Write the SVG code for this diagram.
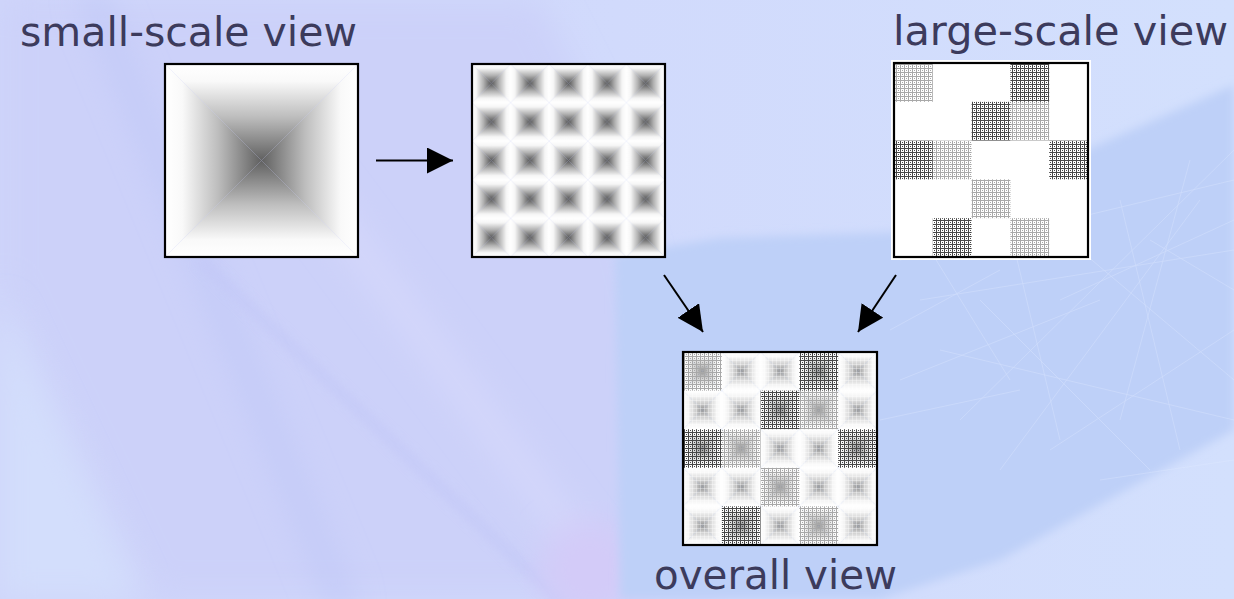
<svg xmlns="http://www.w3.org/2000/svg" width="1234" height="599" viewBox="0 0 1234 599">
<style>
.lbl{font-family:"DejaVu Sans","Liberation Sans",sans-serif;font-size:40px;fill:#3c3b5c}
.frame{fill:none;stroke:#000;stroke-width:2.2}
.conn{stroke:#000;stroke-width:2;fill:none}
.net{stroke:#e2ebff;stroke-width:0.7;opacity:0.45;fill:none}
</style>
<defs>
<filter id="soft" x="-20%" y="-20%" width="140%" height="140%"><feGaussianBlur stdDeviation="16"/></filter>
<filter id="soft2" x="-20%" y="-20%" width="140%" height="140%"><feGaussianBlur stdDeviation="5"/></filter>
<linearGradient id="bg" x1="0" y1="0" x2="1" y2="0"><stop offset="0" stop-color="#cfd5fa"/><stop offset="0.5" stop-color="#d1dafc"/><stop offset="1" stop-color="#d3e0fd"/></linearGradient>
<linearGradient id="pT" x1="0" y1="0" x2="0" y2="1"><stop offset="0" stop-color="#fff"/><stop offset="0.18" stop-color="#f9f9f9"/><stop offset="0.55" stop-color="#bdbdbd"/><stop offset="1" stop-color="#606060"/></linearGradient>
<linearGradient id="pB" x1="0" y1="1" x2="0" y2="0"><stop offset="0" stop-color="#fff"/><stop offset="0.18" stop-color="#f9f9f9"/><stop offset="0.55" stop-color="#bdbdbd"/><stop offset="1" stop-color="#606060"/></linearGradient>
<linearGradient id="pL" x1="0" y1="0" x2="1" y2="0"><stop offset="0" stop-color="#fff"/><stop offset="0.18" stop-color="#f9f9f9"/><stop offset="0.55" stop-color="#bdbdbd"/><stop offset="1" stop-color="#606060"/></linearGradient>
<linearGradient id="pR" x1="1" y1="0" x2="0" y2="0"><stop offset="0" stop-color="#fff"/><stop offset="0.18" stop-color="#f9f9f9"/><stop offset="0.55" stop-color="#bdbdbd"/><stop offset="1" stop-color="#606060"/></linearGradient>
<linearGradient id="sT" x1="0" y1="0" x2="0" y2="1"><stop offset="0" stop-color="#fff"/><stop offset="0.22" stop-color="#f6f6f6"/><stop offset="0.6" stop-color="#b0b0b0"/><stop offset="1" stop-color="#565656"/></linearGradient>
<linearGradient id="sB" x1="0" y1="1" x2="0" y2="0"><stop offset="0" stop-color="#fff"/><stop offset="0.22" stop-color="#f6f6f6"/><stop offset="0.6" stop-color="#b0b0b0"/><stop offset="1" stop-color="#565656"/></linearGradient>
<linearGradient id="sL" x1="0" y1="0" x2="1" y2="0"><stop offset="0" stop-color="#fff"/><stop offset="0.22" stop-color="#f6f6f6"/><stop offset="0.6" stop-color="#b0b0b0"/><stop offset="1" stop-color="#565656"/></linearGradient>
<linearGradient id="sR" x1="1" y1="0" x2="0" y2="0"><stop offset="0" stop-color="#fff"/><stop offset="0.22" stop-color="#f6f6f6"/><stop offset="0.6" stop-color="#b0b0b0"/><stop offset="1" stop-color="#565656"/></linearGradient>
<linearGradient id="fT" x1="0" y1="0" x2="0" y2="1"><stop offset="0" stop-color="#fff"/><stop offset="0.25" stop-color="#f7f7f7"/><stop offset="0.65" stop-color="#cfcfcf"/><stop offset="1" stop-color="#929292"/></linearGradient>
<linearGradient id="fB" x1="0" y1="1" x2="0" y2="0"><stop offset="0" stop-color="#fff"/><stop offset="0.25" stop-color="#f7f7f7"/><stop offset="0.65" stop-color="#cfcfcf"/><stop offset="1" stop-color="#929292"/></linearGradient>
<linearGradient id="fL" x1="0" y1="0" x2="1" y2="0"><stop offset="0" stop-color="#fff"/><stop offset="0.25" stop-color="#f7f7f7"/><stop offset="0.65" stop-color="#cfcfcf"/><stop offset="1" stop-color="#929292"/></linearGradient>
<linearGradient id="fR" x1="1" y1="0" x2="0" y2="0"><stop offset="0" stop-color="#fff"/><stop offset="0.25" stop-color="#f7f7f7"/><stop offset="0.65" stop-color="#cfcfcf"/><stop offset="1" stop-color="#929292"/></linearGradient>
<pattern id="tile2" patternUnits="userSpaceOnUse" x="472" y="64" width="38.6" height="38.6">
<polygon points="0,0 38.6,0 19.3,19.3" fill="url(#sT)"/>
<polygon points="0,38.6 38.6,38.6 19.3,19.3" fill="url(#sB)"/>
<polygon points="0,0 0,38.6 19.3,19.3" fill="url(#sL)"/>
<polygon points="38.6,0 38.6,38.6 19.3,19.3" fill="url(#sR)"/>
</pattern>
<pattern id="tile4" patternUnits="userSpaceOnUse" x="683" y="352" width="38.8" height="38.6">
<polygon points="0,0 38.8,0 19.4,19.3" fill="url(#fT)"/>
<polygon points="0,38.6 38.8,38.6 19.4,19.3" fill="url(#fB)"/>
<polygon points="0,0 0,38.6 19.4,19.3" fill="url(#fL)"/>
<polygon points="38.8,0 38.8,38.6 19.4,19.3" fill="url(#fR)"/>
</pattern>
<pattern id="stipD" patternUnits="userSpaceOnUse" width="4" height="4">
<rect x="0" y="0" width="4" height="1" fill="#474747"/><rect x="0" y="0" width="1" height="4" fill="#474747"/><rect x="2" y="2" width="1" height="1" fill="#474747"/>
</pattern>
<pattern id="stipL" patternUnits="userSpaceOnUse" width="4" height="4">
<rect x="0" y="0" width="4" height="1" fill="#a8a8a8"/><rect x="0" y="0" width="1" height="4" fill="#a8a8a8"/><rect x="2" y="2" width="1" height="1" fill="#a8a8a8"/>
</pattern>
<pattern id="stipF" patternUnits="userSpaceOnUse" width="4" height="4">
<rect x="0" y="0" width="4" height="1" fill="#fff" opacity="0.35"/><rect x="0" y="0" width="1" height="4" fill="#fff" opacity="0.35"/>
</pattern>
<marker id="ah" markerUnits="userSpaceOnUse" markerWidth="26" markerHeight="26" refX="26" refY="13" orient="auto" viewBox="0 0 26 26">
<path d="M0,0 L26,13 L0,26 Z" fill="#000"/>
</marker>
</defs>

<g id="background">
<rect width="1234" height="599" fill="url(#bg)"/>
<polygon points="0,0 540,0 600,120 640,262 720,599 150,599 0,280" fill="#ccd1f9" filter="url(#soft)"/>
<polygon points="0,300 0,599 140,599" fill="#d3defc" filter="url(#soft)"/>
<path d="M90,-10 L345,610" stroke="#c0c8f7" stroke-width="18" filter="url(#soft)" fill="none"/>
<path d="M200,260 L570,610" stroke="#c3c8f7" stroke-width="12" filter="url(#soft2)" fill="none" opacity="0.6"/>
<path d="M270,130 L620,600" stroke="#d5d8fb" stroke-width="26" filter="url(#soft)" fill="none"/>
<ellipse cx="590" cy="570" rx="50" ry="50" fill="#d3cbf8" filter="url(#soft)"/>
<polygon points="615,255 720,238 900,232 1234,85 1234,430 1000,560 880,599 620,599" fill="#bed0f8" filter="url(#soft2)"/>
<g class="net">
<path d="M900,260 L1234,180"/><path d="M920,300 L1234,250"/><path d="M960,420 L1234,150"/><path d="M1000,470 L1200,200"/>
<path d="M1050,450 L1234,330"/><path d="M940,350 L1234,420"/><path d="M980,300 L1150,470"/><path d="M1080,250 L1234,380"/>
<path d="M1120,200 L1180,450"/><path d="M900,380 L1100,300"/><path d="M1150,240 L1234,290"/><path d="M1010,230 L1060,440"/>
<path d="M880,420 L1020,390"/><path d="M1100,480 L1234,460"/><path d="M1190,160 L1120,420"/><path d="M930,250 L1010,380"/>
<path d="M1060,300 L1234,220"/><path d="M890,330 L1000,270"/>
</g>
</g>

<g id="label-small"><text class="lbl" x="20" y="46" textLength="337" lengthAdjust="spacingAndGlyphs">small-scale view</text></g>
<g id="label-large"><text class="lbl" x="893" y="45" textLength="335" lengthAdjust="spacingAndGlyphs">large-scale view</text></g>
<g id="label-overall"><text class="lbl" x="654" y="589" textLength="243" lengthAdjust="spacingAndGlyphs">overall view</text></g>

<g id="small-scale">
<polygon points="165,64 358,64 261.5,160.5" fill="url(#pT)"/>
<polygon points="165,257 358,257 261.5,160.5" fill="url(#pB)"/>
<polygon points="165,64 165,257 261.5,160.5" fill="url(#pL)"/>
<polygon points="358,64 358,257 261.5,160.5" fill="url(#pR)"/>
<rect class="frame" x="165" y="64" width="193" height="193"/>
</g>

<g id="tiled">
<rect x="472" y="64" width="193" height="193" fill="url(#tile2)"/>
<rect class="frame" x="472" y="64" width="193" height="193"/>
</g>

<g id="large-scale">
<rect x="891" y="60" width="200" height="200" fill="#fff"/>
<g fill="url(#stipL)">
<rect x="894" y="63" width="38.8" height="38.8"/>
<rect x="1010.4" y="101.8" width="38.8" height="38.8"/>
<rect x="932.8" y="140.6" width="38.8" height="38.8"/>
<rect x="971.6" y="179.4" width="38.8" height="38.8"/>
<rect x="1010.4" y="218.2" width="38.8" height="38.8"/>
</g>
<g fill="url(#stipD)">
<rect x="1010.4" y="63" width="38.8" height="38.8"/>
<rect x="971.6" y="101.8" width="38.8" height="38.8"/>
<rect x="894" y="140.6" width="38.8" height="38.8"/>
<rect x="1049.2" y="140.6" width="38.8" height="38.8"/>
<rect x="932.8" y="218.2" width="38.8" height="38.8"/>
</g>
<rect class="frame" x="894" y="63" width="194" height="194"/>
</g>

<g id="overall">
<rect x="683" y="352" width="194" height="193" fill="url(#tile4)"/>
<rect x="683" y="352" width="194" height="193" fill="url(#stipF)"/>
<g fill="url(#stipL)">
<rect x="683" y="352" width="38.8" height="38.6"/>
<rect x="799.4" y="390.6" width="38.8" height="38.6"/>
<rect x="721.8" y="429.2" width="38.8" height="38.6"/>
<rect x="760.6" y="467.8" width="38.8" height="38.6"/>
<rect x="799.4" y="506.4" width="38.8" height="38.6"/>
</g>
<g fill="url(#stipD)">
<rect x="799.4" y="352" width="38.8" height="38.6"/>
<rect x="760.6" y="390.6" width="38.8" height="38.6"/>
<rect x="683" y="429.2" width="38.8" height="38.6"/>
<rect x="838.2" y="429.2" width="38.8" height="38.6"/>
<rect x="721.8" y="506.4" width="38.8" height="38.6"/>
</g>
<rect class="frame" x="683" y="352" width="194" height="193"/>
</g>

<g id="connectors">
<line class="conn" x1="376" y1="160.5" x2="453" y2="160.5" marker-end="url(#ah)"/>
<line class="conn" x1="664" y1="275" x2="703" y2="332" marker-end="url(#ah)"/>
<line class="conn" x1="896" y1="275" x2="858" y2="332" marker-end="url(#ah)"/>
</g>
</svg>
